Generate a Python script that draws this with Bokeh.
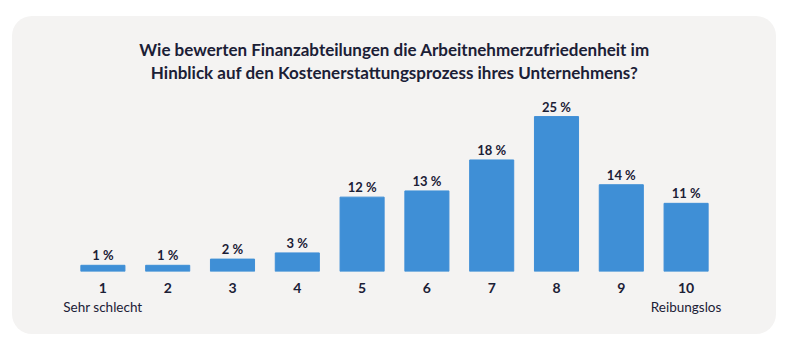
from bokeh.plotting import figure
from bokeh.models import (ColumnDataSource, Title, CategoricalAxis, LabelSet, FactorRange,
                          Range1d, CustomJSTickFormatter)
from bokeh.core.properties import value
from bokeh.embed import file_html
from bokeh.resources import INLINE

categories = ["1", "2", "3", "4", "5", "6", "7", "8", "9", "10"]
shares = [1, 1, 2, 3, 12, 13, 18, 25, 14, 11]
bar_labels = [f"{v} %" for v in shares]
scale_labels = {"1": "Sehr schlecht", "10": "Reibungslos"}
title_lines = [
    "Wie bewerten Finanzabteilungen die Arbeitnehmerzufriedenheit im",
    "Hinblick auf den Kostenerstattungsprozess ihres Unternehmens?",
]

CARD = "#f4f3f2"
BLUE = "#3f8fd6"
DARK = "#1b2036"
FONT = "Lato"

src = ColumnDataSource(dict(cat=categories, share=shares, label=bar_labels))

p = figure(
    x_range=FactorRange(*categories, range_padding=0),
    y_range=Range1d(0, 30.5),
    width=764, height=318,
    output_backend="svg", toolbar_location=None,
    min_border_left=58, min_border_right=58, min_border_top=66, min_border_bottom=63,
)
p.margin = (16, 0, 0, 12)
p.styles = {"border-radius": "20px", "overflow": "hidden", "background-color": CARD}
p.background_fill_color = None
p.border_fill_color = None
p.outline_line_color = None
p.grid.visible = False
p.yaxis.visible = False

# title lines (added bottom-up: later ones sit farther from the frame)
for i, line in enumerate(reversed(title_lines)):
    t = Title(text=line, align="center", text_font=FONT, text_font_size="17px",
              text_font_style="bold", text_color=DARK, standoff=0, offset=-7,
              text_line_height=(1.2 if i == 0 else 1.0))
    p.add_layout(t, "above")

p.vbar(x="cat", top="share", width=0.68, source=src, color=BLUE)

labels = LabelSet(x="cat", y="share", text="label", source=src, y_offset=5,
                  text_align="center", text_baseline="alphabetic",
                  text_font=value(FONT), text_font_style="bold",
                  text_font_size="13px", text_color=DARK)
p.add_layout(labels)

ax = p.xaxis[0]
ax.axis_line_color = None
ax.major_tick_line_color = None
ax.minor_tick_line_color = None
ax.major_label_text_font = FONT
ax.major_label_text_font_style = "bold"
ax.major_label_text_font_size = "14px"
ax.major_label_text_color = DARK
ax.major_label_standoff = 5

ax2 = CategoricalAxis(
    formatter=CustomJSTickFormatter(args=dict(names=scale_labels),
                                    code="return names[tick] || ''"),
    axis_line_color=None, major_tick_line_color=None, minor_tick_line_color=None,
    major_label_text_font=FONT, major_label_text_font_size="13.5px",
    major_label_text_color=DARK, major_label_standoff=-3,
)
p.add_layout(ax2, "below")

open("out.html", "w").write(file_html(p, INLINE))
